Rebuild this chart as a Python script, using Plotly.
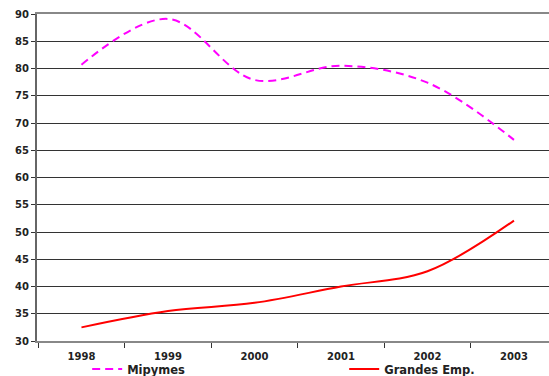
import plotly.graph_objects as go

# Series data
years = ["1998", "1999", "2000", "2001", "2002", "2003"]
mipymes = [80.7, 89.1, 77.9, 80.5, 77.4, 66.9]
grandes = [32.5, 35.5, 37.0, 40.0, 42.8, 52.1]
y_ticks = [30, 35, 40, 45, 50, 55, 60, 65, 70, 75, 80, 85, 90]

font_family = "DejaVu Sans"
label_font = dict(family=font_family, size=10, color="#222222", weight="bold")
legend_font = dict(family=font_family, size=11.5, color="#222222", weight="bold")

fig = go.Figure()
fig.add_trace(go.Scatter(
    x=years, y=mipymes, name="Mipymes", mode="lines", legend="legend",
    line=dict(color="#FF00FF", width=2, dash="8px,5px", shape="spline", smoothing=1.0),
))
fig.add_trace(go.Scatter(
    x=years, y=grandes, name="Grandes Emp.", mode="lines", legend="legend2",
    line=dict(color="#FF0000", width=2, shape="spline", smoothing=1.0),
))

legend_common = dict(
    orientation="h", y=-0.086, yanchor="middle", xanchor="left",
    font=legend_font, bgcolor="rgba(0,0,0,0)", borderwidth=0,
)

fig.update_layout(
    width=549, height=376,
    margin=dict(l=37, r=0, t=14, b=35, autoexpand=False),
    paper_bgcolor="white", plot_bgcolor="white",
    font=dict(family=font_family, size=10, color="#222222"),
    showlegend=True,
    legend=dict(x=0.098, **legend_common),
    legend2=dict(x=0.600, **legend_common),
)

fig.update_xaxes(
    type="category", range=[-0.514, 5.405],
    tickson="boundaries", ticks="outside", ticklen=5, tickcolor="#333333", tickwidth=1,
    showgrid=False, showline=True, linecolor="#888888", linewidth=2, mirror=True,
    tickfont=label_font, ticklabelstandoff=5,
)
fig.update_yaxes(
    range=[30, 90], tickvals=y_ticks,
    ticks="outside", ticklen=4, tickcolor="#333333",
    showgrid=True, gridcolor="#333333", gridwidth=1,
    showline=True, linecolor="#666666", linewidth=2,
    zeroline=False,
    tickfont=label_font,
)

fig.write_html("out.html")
